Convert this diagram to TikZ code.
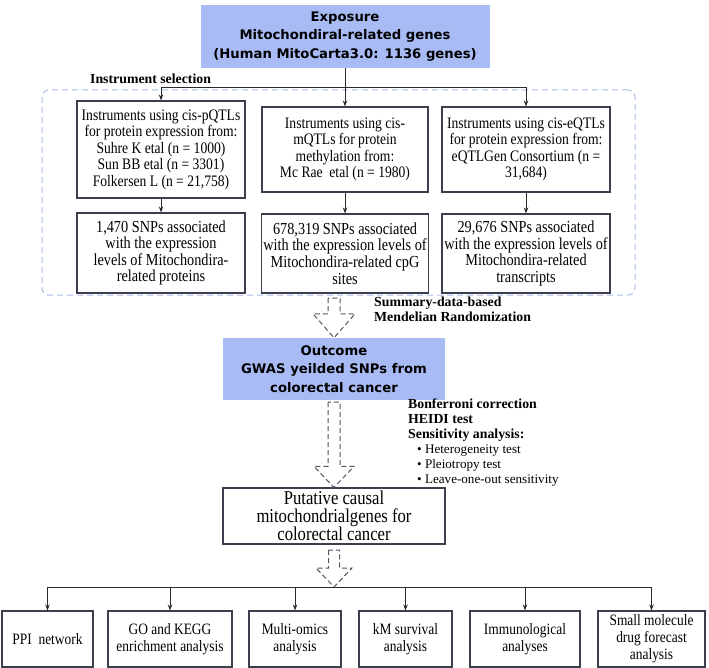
\documentclass[tikz,border=0pt]{standalone}
\usepackage{fontspec}
\setmainfont{Liberation Serif}
\newfontfamily\boxsans{DejaVu Sans}
\newfontfamily\tallserif[FakeStretch=0.85]{Liberation Serif}
\usetikzlibrary{arrows.meta,calc}
\definecolor{outblue}{HTML}{A9BBF5}
\definecolor{selblue}{HTML}{A8BAE8}
\definecolor{boxline}{HTML}{3E3E4E}
\definecolor{lnk}{HTML}{2A2A2A}
\definecolor{hol}{HTML}{55555F}
\tikzset{
  bluebox/.style={fill=outblue, align=center, inner sep=2pt,
    font=\boxsans\bfseries\fontsize{13.2}{18.5}\selectfont},
  srcbox/.style={draw=boxline, line width=1.1pt, align=center, inner sep=2pt,
    font=\tallserif\fontsize{16}{16.5}\selectfont},
  snpbox/.style={srcbox, font=\tallserif\fontsize{16.8}{16.6}\selectfont},
  resbox/.style={srcbox, font=\tallserif\fontsize{19.6}{18}\selectfont},
  anabox/.style={srcbox, minimum height=56pt, font=\tallserif\fontsize{15.8}{16.8}\selectfont},
  selframe/.style={draw=selblue, dash pattern=on 6pt off 4pt, line width=1pt,
    rounded corners=7pt, inner sep=0pt},
  conn/.style={-{Stealth[length=6pt,width=4.5pt]}, line width=0.9pt, draw=lnk},
  plain/.style={line width=0.9pt, draw=lnk},
  hollow/.style={draw=hol, dash pattern=on 5pt off 3pt, line width=1pt},
  note/.style={align=left, inner sep=0pt, font=\bfseries\fontsize{13.8}{15}\selectfont},
}
% dashed block arrow: top point, tip, shaft half width, head half width, head length (pt)
\newcommand{\hollowarrow}[5]{%
  \draw[hollow] let \p1=(#1), \p2=(#2) in
    (\x2-#3pt,\y1) -- (\x2-#3pt,\y2+#5pt) -- (\x2-#4pt,\y2+#5pt) -- (\x2,\y2)
    -- (\x2+#4pt,\y2+#5pt) -- (\x2+#3pt,\y2+#5pt) -- (\x2+#3pt,\y1) -- cycle;}

\begin{document}
\begin{tikzpicture}[x=1pt,y=-1pt]
\useasboundingbox (0,0) rectangle (709,668);

% ============ exposure and instrument selection ============================
\node[bluebox, minimum width=289pt, minimum height=63pt] (expo) at (345,36.5)
  {Exposure\\Mitochondiral-related genes\\(Human MitoCarta3.0: 1136 genes)};
\node[note, anchor=west] (instsel) at (90,79) {Instrument selection};
\node[selframe, minimum width=593pt, minimum height=205pt] (sel) at (338.5,192.5) {};

\node[srcbox, minimum width=168pt, minimum height=97pt] (pq) at (161,149.5)
  {Instruments using cis-pQTLs\\for protein expression from:\\Suhre K etal (n = 1000)\\
   Sun BB etal (n = 3301)\\Folkersen L (n = 21,758)};
\node[srcbox, minimum width=166pt, minimum height=85pt] (mq) at (345,149.5)
  {Instruments using cis-\\mQTLs for protein\\methylation from:\\Mc Rae\ \ etal (n = 1980)};
\node[srcbox, minimum width=168pt, minimum height=85pt] (eq) at (526,149.5)
  {Instruments using cis-eQTLs\\for protein expression from:\\eQTLGen Consortium (n =\\31,684)};

\node[snpbox, minimum width=168pt, minimum height=80pt] (pqsnp) at (161,253)
  {1,470 SNPs associated\\with the expression\\levels of Mitochondira-\\related proteins};
\node[snpbox, minimum width=166pt, minimum height=79pt] (mqsnp) at (345,253.5)
  {678,319 SNPs associated\\with the expression levels of\\Mitochondira-related cpG\\sites};
\node[snpbox, minimum width=168pt, minimum height=79pt] (eqsnp) at (526,253.5)
  {29,676 SNPs associated\\with the expression levels of\\Mitochondira-related\\transcripts};

\coordinate (split) at (345,87);
\draw[conn] (expo.south) -- (split) -| (pq.north);
\draw[conn] (split) -- (mq.north);
\draw[conn] (split) -| (eq.north);
\draw[conn] (pq) -- (pqsnp);
\draw[conn] (mq) -- (mqsnp);
\draw[conn] (eq) -- (eqsnp);

% ============ outcome =======================================================
\node[note, anchor=west] (smr) at (374,309.5) {Summary-data-based\\Mendelian Randomization};
\node[bluebox, minimum width=222pt, minimum height=62pt] (outcome) at (334,369)
  {Outcome\\GWAS yeilded SNPs from\\colorectal cancer};
\coordinate (smrtop) at (334,298);
\hollowarrow{smrtop}{outcome.north}{6}{21}{24}

\node[note, anchor=west] (checks) at (408,443)
  {Bonferroni correction\\HEIDI test\\Sensitivity analysis:\\
   {\normalfont\fontsize{13.1}{14.8}\selectfont\hspace*{9pt}\textbullet\ Heterogeneity test}\\
   {\normalfont\fontsize{13.1}{14.8}\selectfont\hspace*{9pt}\textbullet\ Pleiotropy test}\\
   {\normalfont\fontsize{13.1}{14.8}\selectfont\hspace*{9pt}\textbullet\ Leave-one-out sensitivity}};

% ============ causal genes and downstream analyses ==========================
\node[resbox, minimum width=222pt, minimum height=56pt] (causal) at (334,516)
  {Putative causal\\mitochondrialgenes for\\colorectal cancer};
\coordinate (chktop) at (334,402);
\hollowarrow{chktop}{causal.north}{6}{20}{21}

\coordinate (fan) at (334,587);
\coordinate (fantop) at (334,550);
\hollowarrow{fantop}{fan}{5.5}{18}{19}

\foreach \nm/\cx/\bw/\txt in {ppi/47.5/91/{PPI\ \ network},
    gokegg/170/124/{GO and KEGG\\enrichment analysis},
    omics/295/92/{Multi-omics\\analysis},
    km/405.5/93/{kM survival\\analysis},
    immune/525/110/{Immunological\\analyses},
    drug/651.5/107/{Small molecule\\drug forecast\\analysis}}{
  \node[anabox, minimum width=\bw pt] (\nm) at (\cx,639) {\txt};}

\draw[plain] (ppi.north |- fan) -- (drug.north |- fan);
\foreach \nm in {ppi,gokegg,omics,km,immune,drug}
  \draw[conn] (\nm.north |- fan) -- (\nm.north);

\end{tikzpicture}
\end{document}
